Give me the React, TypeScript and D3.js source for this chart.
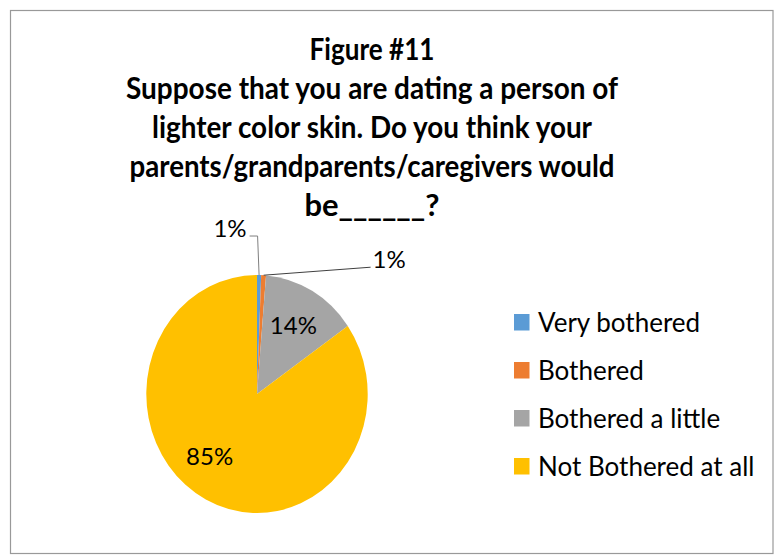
import React from "react";
import * as d3 from "d3";

const categories = ["Very bothered", "Bothered", "Bothered a little", "Not Bothered at all"];
const values = [0.6, 0.7, 14.0, 84.7];
const labels = ["1%", "1%", "14%", "85%"];
const colors = ["#5B9BD5", "#ED7D31", "#A5A5A5", "#FFC000"];
const titleLines = [
  "Figure #11",
  "Suppose that you are dating a person of",
  "lighter color skin. Do you think your",
  "parents/grandparents/caregivers would",
  "be______?",
];
const titleWidths = [125, 492, 440, 485, 135];

const W = 776;
const H = 555;
const cx = 257;
const cy = 394;
const R = 110.7;
const yScale = 1.075;

export default function App() {
  const pie = d3.pie<number>().sort(null).value((d) => d);
  const arcs = pie(values);
  const arc = d3.arc<d3.PieArcDatum<number>>().innerRadius(0).outerRadius(R);

  const edgePoint = (a: d3.PieArcDatum<number>) => {
    const m = (a.startAngle + a.endAngle) / 2;
    return [cx + R * Math.sin(m), cy - R * Math.cos(m) * yScale];
  };

  const fs = 24;
  const font = "Lato, 'Open Sans', sans-serif";

  return (
    <svg
      width={W}
      height={H}
      style={{ position: "absolute", left: 0, top: 0, background: "#fff" }}
    >
      <rect x={0} y={0} width={W} height={H} fill="#fff" />
      <rect x={10.5} y={10.5} width={762.5} height={543} fill="none" stroke="#999" strokeWidth={1.2} />

      <g fontFamily={font} fontWeight={700} fontSize={30} fill="#000" textAnchor="middle">
        {titleLines.map((t, i) => (
          <text
            key={i}
            x={372}
            y={60 + i * 39}
            textLength={titleWidths[i]}
            lengthAdjust="spacingAndGlyphs"
          >
            {t}
          </text>
        ))}
      </g>

      <g transform={`translate(${cx},${cy}) scale(1,${yScale})`}>
        {arcs.map((a, i) => (
          <path key={i} d={arc(a) || ""} fill={colors[i]} />
        ))}
      </g>

      {/* inside labels */}
      {arcs.map((a, i) => {
        if (i < 2) return null;
        const mid = (a.startAngle + a.endAngle) / 2 + (i === 3 ? 0.2 : 0);
        const r = R * (i === 3 ? 0.68 : 0.66);
        const x = cx + r * Math.sin(mid);
        const y = cy - r * Math.cos(mid) * yScale;
        return (
          <text
            key={i}
            x={x}
            y={y + 8.5}
            textAnchor="middle"
            fontFamily={font}
            fontSize={fs}
            fill="#000"
          >
            {labels[i]}
          </text>
        );
      })}

      {/* outside labels with leader lines */}
      {arcs.slice(0, 2).map((a, i) => {
        const [ex, ey] = edgePoint(a);
        if (i === 0) {
          const kx = ex - 1.5;
          const ky = ey - 39;
          return (
            <g key={i}>
              <polyline
                points={`${ex},${ey} ${kx},${ky} ${kx - 8},${ky}`}
                fill="none"
                stroke="#7F7F7F"
                strokeWidth={1}
              />
              <text x={kx - 11} y={ky + 1} textAnchor="end" fontFamily={font} fontSize={fs} fill="#000">
                {labels[i]}
              </text>
            </g>
          );
        }
        const lx = ex + 107;
        const ly = ey - 8;
        return (
          <g key={i}>
            <polyline
              points={`${ex},${ey} ${lx},${ly}`}
              fill="none"
              stroke="#404040"
              strokeWidth={1}
            />
            <text x={lx + 2} y={ly + 1} textAnchor="start" fontFamily={font} fontSize={fs} fill="#000">
              {labels[i]}
            </text>
          </g>
        );
      })}

      {/* legend */}
      <g fontFamily={font} fontSize={26} fill="#000">
        {categories.map((c, i) => (
          <g key={i} transform={`translate(514,${314 + i * 48})`}>
            <rect x={0} y={0} width={15.5} height={16.5} fill={colors[i]} />
            <text x={24} y={17.5}>
              {c}
            </text>
          </g>
        ))}
      </g>
    </svg>
  );
}
